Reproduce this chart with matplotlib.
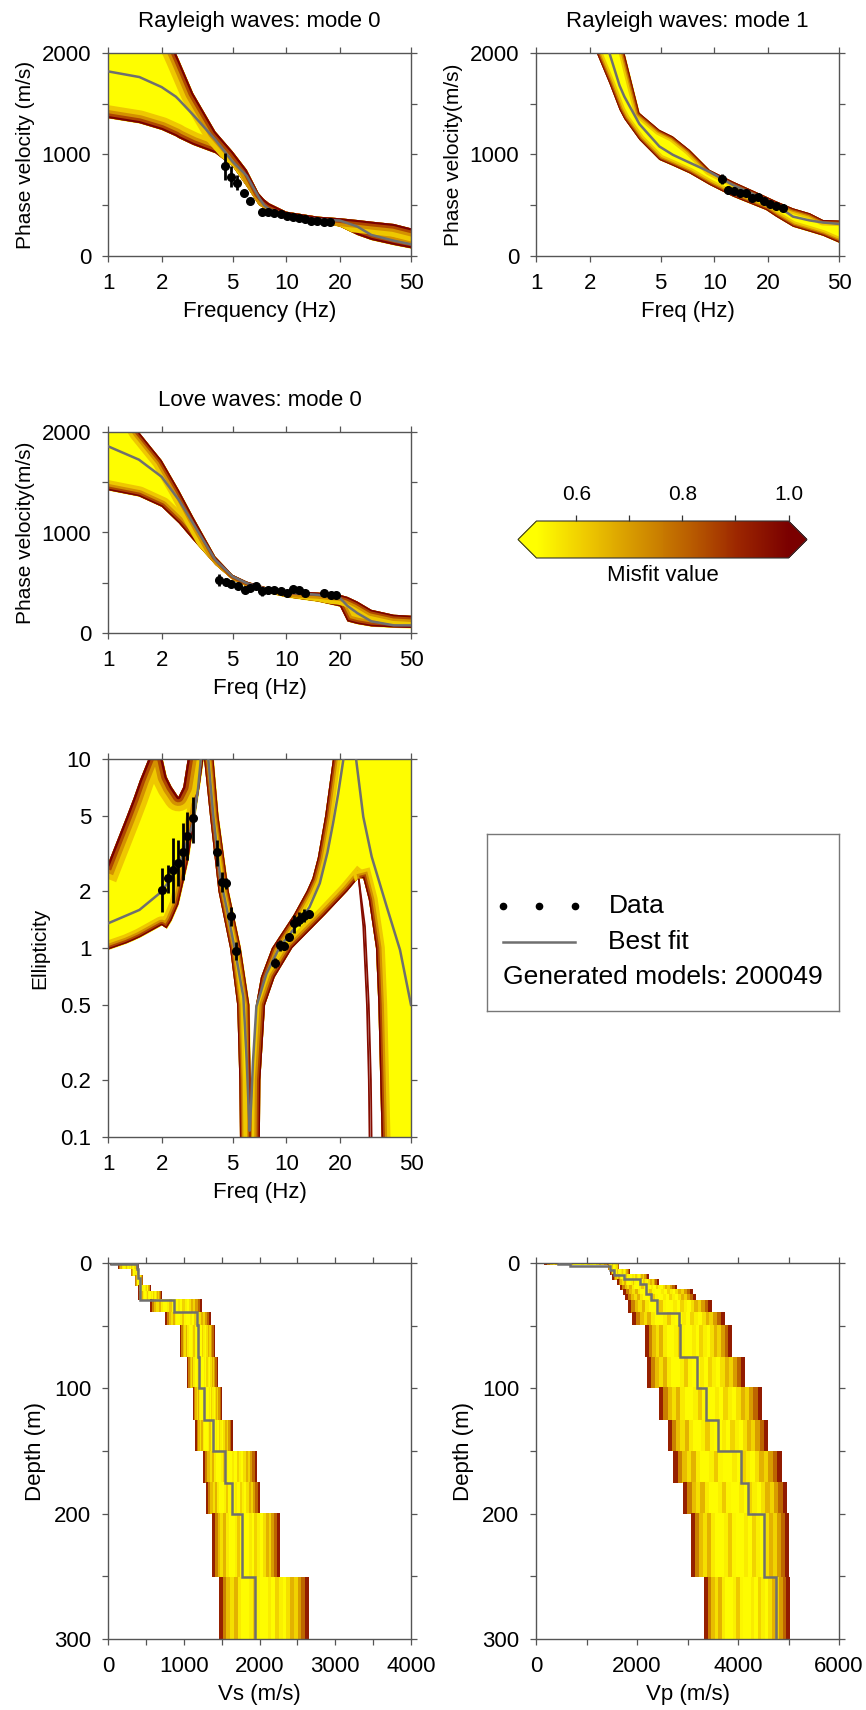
import numpy as np
import matplotlib
matplotlib.use('Agg')
import matplotlib.pyplot as plt
from matplotlib.colors import LinearSegmentedColormap, Normalize
from matplotlib.cm import ScalarMappable
from matplotlib.patches import Polygon
from matplotlib.ticker import NullLocator, FormatStrFormatter

plt.rcParams['font.family'] = ['Liberation Sans', 'DejaVu Sans']

# ---- Rayleigh mode 0 (envelope of models, best fit, data) ----
R0_F = [1, 1.5, 2, 2.4, 2.5, 3, 4, 5, 6, 7, 7.5, 8, 10, 15, 20, 25, 30, 40, 50]
R0_LO = [1359, 1309, 1243, 1180, 1161, 1095, 1013, 882, 684, 503, 470, 447, 395, 339, 289, 207, 158, 109, 76]
R0_HI = [2700, 2600, 2300, 2000, 1930, 1605, 1227, 1030, 849, 618, 560, 520, 437, 388, 372, 355, 339, 316, 273]
R0_BEST = [1819, 1763, 1664, 1570, 1539, 1391, 1145, 930, 790, 580, 500, 462, 405, 362, 349, 290, 207, 151, 115]
R0_DF = [4.55, 4.92, 5.31, 5.79, 6.22, 7.33, 7.93, 8.57, 9.29, 10.08, 10.9, 11.8, 12.8, 13.8, 14.9, 16.2, 17.5]
R0_DV = [882, 783, 724, 618, 543, 437, 431, 421, 411, 395, 385, 372, 362, 349, 342, 336, 336]
R0_DE = [130, 100, 70, 20, 10, 25, 20, 15, 12, 10, 10, 10, 10, 8, 8, 8, 8]

# ---- Rayleigh mode 1 ----
R1_F = [2.0, 2.19, 2.58, 2.94, 3.13, 3.8, 4.92, 5.85, 7.26, 9.4, 12.7, 19.5, 22.2, 27.6, 34.3, 40.7, 50]
R1_LO = [2150, 2000, 1700, 1441, 1350, 1145, 947, 890, 815, 701, 586, 454, 388, 289, 240, 200, 132]
R1_HI = [2900, 2700, 2350, 2100, 2000, 1410, 1243, 1178, 1046, 849, 734, 586, 540, 470, 421, 355, 349]
R1_BEST = [2400, 2250, 2000, 1680, 1570, 1300, 1079, 997, 920, 830, 700, 553, 500, 388, 350, 330, 316]
R1_DF = [10.97, 11.9, 12.9, 13.9, 15.0, 16.2, 17.5, 19.05, 20.6, 22.3, 24.2]
R1_DV = [760, 651, 645, 618, 618, 569, 579, 543, 513, 497, 477]
R1_DE = [50, 40, 30, 20, 15, 10, 10, 10, 8, 8, 8]

# ---- Love mode 0 ----
L_F = [1, 1.49, 2, 2.5, 3, 4, 5, 6, 8, 10, 15, 20, 22, 25, 30, 40, 50]
L_LO = [1421, 1360, 1256, 1091, 926, 678, 529, 463, 397, 357, 314, 264, 116, 90, 66, 55, 50]
L_HI = [2500, 2000, 1719, 1421, 1157, 760, 579, 512, 446, 420, 403, 380, 360, 314, 231, 182, 172]
L_BEST = [1858, 1725, 1554, 1322, 1091, 727, 562, 496, 430, 403, 380, 347, 270, 198, 116, 76, 76]
L_DF = [4.19, 4.57, 4.92, 5.36, 5.84, 6.28, 6.79, 7.33, 7.93, 8.57, 9.29, 10.08, 10.9, 11.8, 12.8, 16.3, 17.7, 19.06]
L_DV = [529, 512, 489, 463, 430, 446, 463, 413, 423, 430, 413, 397, 436, 430, 397, 397, 374, 374]
L_DE = [60, 40, 30, 15, 12, 10, 10, 40, 30, 25, 15, 10, 10, 10, 10, 10, 10, 10]

# ---- Ellipticity ----
EA_F = [1.0, 1.27, 1.39, 1.51, 1.72, 2.0, 2.13, 2.27, 2.48, 2.64, 2.82, 3.07, 3.28, 3.43, 3.6]
EA_LO = [0.98, 1.06, 1.10, 1.14, 1.22, 1.32, 1.27, 1.40, 1.70, 2.2, 2.92, 4.95, 7.4, 10.0, 14.0]
EA_HI = [2.8, 4.96, 6.2, 7.74, 10.5, 10.5, 8.06, 7.14, 6.3, 7.1, 10.5, 15, 15, 15, 15]
ED_E = [0.09, 0.2, 0.5, 1.0, 2.0, 5.0, 11.0]
ED_LEFT = [5.5, 5.45, 5.3, 4.83, 4.16, 3.73, 3.42]
ED_RIGHT = [6.3, 6.3, 6.2, 5.55, 4.75, 4.16, 3.87]
ER_E = [0.09, 0.2, 0.5, 0.7, 1.0, 1.5, 2.0, 2.34, 3.0, 5.0, 11.0]
ER_LEFT = [6.35, 6.45, 6.75, 7.2, 8.3, 11.0, 13.0, 14.0, 15.0, 16.5, 18.5]
ER_RE = [0.09, 0.2, 0.5, 0.7, 1.0, 1.5, 2.0, 2.34]
ER_RIGHT = [7.1, 7.15, 7.6, 8.6, 10.8, 16.5, 22.0, 25.3]
EP_E = [0.09, 0.5, 1.0, 1.8, 2.34]
EP_LEFT = [34.3, 32.8, 31.8, 29.0, 27.0]
OUT_E = [2.3, 1.3, 0.5, 0.2, 0.09]
OUT1_F = [25.5, 27.0, 28.3, 29.0, 29.3]
OUT2_F = [25.5, 27.6, 29.0, 29.8, 30.1]
EL_BEST_F = [1, 1.5, 2, 2.5, 3, 3.2, 3.3, 3.45, 3.65, 3.9, 4.25, 4.73, 5.15, 5.74, 6.0, 6.15,
             6.23, 6.35, 6.5, 6.79, 7.73, 9.16, 11.9, 13.5, 15.4, 17.0, 18.3, 19.5, 20.9, 22.5,
             24.6, 27.0, 30.1, 36.5, 43.4, 50]
EL_BEST = [1.35, 1.59, 1.99, 2.7, 4.58, 7.0, 9.5, 20, 10, 4.95, 2.39, 1.47, 0.976, 0.55, 0.25, 0.14,
           0.108, 0.15, 0.25, 0.49, 0.73, 1.01, 1.38, 1.65, 2.2, 3.2, 4.6, 6.5, 10, 20,
           10, 4.95, 3.04, 1.66, 0.976, 0.5]
EL_DF = [2.0, 2.18, 2.32, 2.48, 2.62, 2.79, 2.98, 4.07, 4.34, 4.59, 4.89, 5.2, 8.64, 9.21, 9.7, 10.4, 11.1, 11.8, 12.5, 13.4]
EL_DV = [2.03, 2.34, 2.59, 2.81, 3.24, 3.91, 4.85, 3.24, 2.24, 2.20, 1.47, 0.964, 0.83, 1.04, 1.02, 1.14, 1.35, 1.41, 1.48, 1.52]
EL_LO = [1.55, 1.95, 1.72, 2.12, 2.29, 2.92, 3.58, 2.72, 1.98, 2.05, 1.3, 0.86, 0.78, 0.97, 0.98, 1.10, 1.2, 1.3, 1.38, 1.48]
EL_HI = [2.64, 2.75, 3.8, 3.72, 4.57, 5.26, 6.32, 3.72, 2.52, 2.35, 1.65, 1.07, 0.88, 1.1, 1.06, 1.18, 1.5, 1.55, 1.6, 1.56]

# ---- Vs profiles ----
VS_EDGES = [0, 1.5, 5, 10, 18, 23, 29.7, 39.4, 49.6, 74.9, 99.5, 125.3, 150, 175.2, 200, 250.6, 300]
VS_MIN = [25, 130, 310, 355, 395, 395, 560, 755, 950, 1040, 1125, 1145, 1250, 1300, 1375, 1465]
VS_MAX = [380, 400, 410, 450, 555, 700, 1235, 1350, 1400, 1445, 1500, 1645, 1960, 2005, 2260, 2645]
VS_BEST_EDGES = [0, 0.5, 5, 12, 29.7, 39.4, 49.6, 74.9, 99.5, 125.3, 150, 175.2, 200, 250.6, 300]
VS_BEST = [40, 385, 400, 420, 870, 1170, 1190, 1205, 1265, 1390, 1550, 1640, 1770, 1940]

# ---- Vp profiles ----
VP_EDGES = [0, 1.6, 5.6, 9.6, 13.6, 17.6, 21.5, 25.5, 29.5, 39.5, 49.6, 74.9, 99.5, 125.3, 150, 175.2, 200, 250.6, 300]
VP_MIN = [165, 1430, 1465, 1500, 1600, 1660, 1715, 1760, 1830, 1900, 2150, 2200, 2445, 2610, 2710, 2920, 3060, 3320]
VP_MAX = [1520, 1630, 1860, 2225, 2420, 2785, 3100, 3150, 3480, 3740, 3870, 4130, 4480, 4580, 4860, 4960, 5000, 5020]
VP_BEST_EDGES = [0, 0.5, 2, 5.8, 9.8, 12.5, 16.5, 24.4, 29.7, 39.5, 49.6, 74.9, 99.5, 125.3, 150, 175.2, 200, 250.6, 300]
VP_BEST = [440, 680, 1460, 1550, 1750, 2050, 2180, 2280, 2400, 2840, 2860, 3190, 3360, 3600, 4065, 4200, 4515, 4750]

# misfit of stripes across a block of depth models, left to right
STRIPE = [0.92, 0.75, 0.64, 0.58, 0.66, 0.56, 0.53, 0.53, 0.55, 0.62, 0.54, 0.53,
          0.53, 0.56, 0.53, 0.6, 0.55, 0.53, 0.58, 0.66, 0.6, 0.7, 0.8, 0.93]
N_MODELS = 200049

W, H = 866, 1710
cmap = LinearSegmentedColormap.from_list(
    'misfit', ['#ffff00', '#eec800', '#d49400', '#bb6000', '#9c2600', '#7a0000'])
norm = Normalize(0.525, 1.0)
FILL = cmap(norm(0.53))
GREY = '#6f6f6f'
AXC = '#555555'
FS = 16
GLOW = [(8, 0.62), (5, 0.72), (3, 0.85), (1.3, 1.0)]

fig = plt.figure(figsize=(W / 100, H / 100), dpi=100)


def panel(l, t, r, b):
    return fig.add_axes([l / W, 1 - b / H, (r - l) / W, (b - t) / H])


def style(ax):
    for s in ax.spines.values():
        s.set_color(AXC)
        s.set_linewidth(1.0)
    ax.tick_params(which='both', direction='out', top=True, right=True, length=4,
                   width=0.9, color=AXC, labelsize=FS, pad=8)


def glow(ax, xs, ys, clip, scale=1.0):
    for lw, m in GLOW:
        ln, = ax.plot(xs, ys, color=cmap(norm(m)), lw=lw * scale, zorder=1.5,
                      solid_joinstyle='round')
        if isinstance(clip, tuple):
            ln.set_clip_path(*clip)
        else:
            ln.set_clip_path(clip)


def freq_axis(ax, label):
    ax.set_xscale('log')
    ax.set_xlim(1, 50)
    ax.set_xticks([1, 2, 5, 10, 20, 50])
    ax.set_xticklabels(['1', '2', '5', '10', '20', '50'])
    ax.xaxis.set_minor_locator(NullLocator())
    ax.set_xlabel(label, fontsize=FS, labelpad=5)


def dispersion(ax, f, lo, hi, best, df, dv, de, title, xlabel, ylabel, scale):
    coll = ax.fill_between(f, lo, hi, color=FILL, lw=0, zorder=1)
    clip = (coll.get_paths()[0], ax.transData)
    glow(ax, f, lo, clip, scale)
    glow(ax, f, hi, clip, scale)
    ax.plot(f, best, color=GREY, lw=1.8, zorder=3)
    ax.errorbar(df, dv, yerr=de, fmt='o', color='k', ms=5.5, elinewidth=2, capsize=0, zorder=4)
    freq_axis(ax, xlabel)
    ax.set_ylim(0, 2000)
    ax.set_yticks([0, 500, 1000, 1500, 2000])
    ax.set_yticklabels(['0', '', '1000', '', '2000'])
    ax.set_ylabel(ylabel, fontsize=15, labelpad=5)
    ax.set_title(title, fontsize=FS, pad=19)
    style(ax)


ax1 = panel(108, 53, 411, 256)
dispersion(ax1, R0_F, R0_LO, R0_HI, R0_BEST, R0_DF, R0_DV, R0_DE,
           'Rayleigh waves: mode 0', 'Frequency (Hz)', 'Phase velocity (m/s)', 2.3)
ax2 = panel(536, 53, 839, 256)
dispersion(ax2, R1_F, R1_LO, R1_HI, R1_BEST, R1_DF, R1_DV, R1_DE,
           'Rayleigh waves: mode 1', 'Freq (Hz)', 'Phase velocity(m/s)', 1.0)
ax3 = panel(108, 432, 411, 633)
dispersion(ax3, L_F, L_LO, L_HI, L_BEST, L_DF, L_DV, L_DE,
           'Love waves: mode 0', 'Freq (Hz)', 'Phase velocity(m/s)', 1.8)

# colorbar
cax = panel(518, 521, 807, 558)
cb = fig.colorbar(ScalarMappable(norm=norm, cmap=cmap), cax=cax, orientation='horizontal',
                  extend='both', extendfrac=0.0734, ticklocation='top')
cb.set_ticks([0.6, 0.8, 1.0])
cb.set_ticks([0.7, 0.9], minor=True)
cb.ax.xaxis.set_major_formatter(FormatStrFormatter('%.1f'))
cb.outline.set_edgecolor('#333333')
cb.outline.set_linewidth(0.8)
cb.ax.tick_params(which='both', direction='out', length=4, width=0.9, color='#333333',
                  labelsize=15, pad=8)
cb.ax.xaxis.set_label_position('bottom')
cb.ax.set_xlabel('Misfit value', fontsize=FS, labelpad=5)

# ellipticity
ax4 = panel(108, 759, 411, 1137)
ax4.set_xscale('log')
ax4.set_yscale('log')
coll = ax4.fill_between(EA_F, EA_LO, EA_HI, color=FILL, lw=0, zorder=1)
clip = (coll.get_paths()[0], ax4.transData)
glow(ax4, EA_F, EA_LO, clip, 1.6)
glow(ax4, EA_F, EA_HI, clip, 2.6)
coll = ax4.fill_betweenx(ED_E, ED_LEFT, ED_RIGHT, color=FILL, lw=0, zorder=1)
clip = (coll.get_paths()[0], ax4.transData)
glow(ax4, ED_LEFT, ED_E, clip)
glow(ax4, ED_RIGHT, ED_E, clip)
verts = (list(zip(ER_LEFT, ER_E)) + [(60, ER_E[-1]), (60, EP_E[0])]
         + list(zip(EP_LEFT, EP_E)) + list(zip(ER_RIGHT[::-1], ER_RE[::-1])))
poly = Polygon(verts, closed=True, facecolor=FILL, edgecolor='none', zorder=1)
ax4.add_patch(poly)
glow(ax4, ER_LEFT, ER_E, poly, 1.4)
glow(ax4, ER_RIGHT, ER_RE, poly, 1.6)
glow(ax4, EP_LEFT, EP_E, poly, 1.6)
for of in (OUT1_F, OUT2_F):
    ax4.plot(of, OUT_E, color=cmap(norm(0.97)), lw=1.3, zorder=1.6)
ax4.plot(EL_BEST_F, EL_BEST, color=GREY, lw=1.8, zorder=3)
el_err = [np.array(EL_DV) - np.array(EL_LO), np.array(EL_HI) - np.array(EL_DV)]
ax4.errorbar(EL_DF, EL_DV, yerr=el_err, fmt='o', color='k', ms=5.5, elinewidth=2, capsize=0, zorder=4)
freq_axis(ax4, 'Freq (Hz)')
ax4.set_ylim(0.1, 10)
ax4.set_yticks([0.1, 0.2, 0.5, 1, 2, 5, 10])
ax4.set_yticklabels(['0.1', '0.2', '0.5', '1', '2', '5', '10'])
ax4.yaxis.set_minor_locator(NullLocator())
ax4.set_ylabel('Ellipticity', fontsize=15, labelpad=8)
style(ax4)

# legend box
lax = panel(487, 834, 839, 1011)
lax.set_xlim(0, 1)
lax.set_ylim(0, 1)
lax.set_xticks([])
lax.set_yticks([])
for s in lax.spines.values():
    s.set_color('#777777')
    s.set_linewidth(1.0)
lax.plot([0.045, 0.148, 0.25], [0.593] * 3, 'o', color='k', ms=4.5)
lax.plot([0.045, 0.25], [0.39, 0.39], color=GREY, lw=1.8)
lax.text(0.345, 0.593, 'Data', fontsize=19, va='center')
lax.text(0.345, 0.39, 'Best fit', fontsize=19, va='center')
lax.text(0.045, 0.192, 'Generated models: %d' % N_MODELS, fontsize=19, va='center')


def profile(ax, edges, vmin, vmax, best_edges, best, xmax, major, minor, xlabel):
    for i in range(len(vmin)):
        ax.imshow([STRIPE], extent=(vmin[i], vmax[i], edges[i + 1], edges[i]), cmap=cmap,
                  norm=norm, aspect='auto', interpolation='nearest', zorder=1)
    ax.stairs(best, best_edges, orientation='horizontal', baseline=None, color=GREY, lw=1.8, zorder=3)
    ax.set_xlim(0, xmax)
    ax.set_ylim(300, 0)
    ticks = np.arange(0, xmax + 1, minor)
    ax.set_xticks(ticks)
    ax.set_xticklabels([str(int(v)) if v % major == 0 else '' for v in ticks])
    ax.set_yticks(np.arange(0, 301, 50))
    ax.set_yticklabels(['0', '', '100', '', '200', '', '300'])
    ax.set_xlabel(xlabel, fontsize=FS, labelpad=5)
    ax.set_ylabel('Depth (m)', fontsize=FS, labelpad=6)
    style(ax)


ax5 = panel(108, 1263, 411, 1639)
profile(ax5, VS_EDGES, VS_MIN, VS_MAX, VS_BEST_EDGES, VS_BEST, 4000, 1000, 500, 'Vs (m/s)')
ax6 = panel(536, 1263, 839, 1639)
profile(ax6, VP_EDGES, VP_MIN, VP_MAX, VP_BEST_EDGES, VP_BEST, 6000, 2000, 1000, 'Vp (m/s)')

fig.savefig('out.png', dpi=100)
